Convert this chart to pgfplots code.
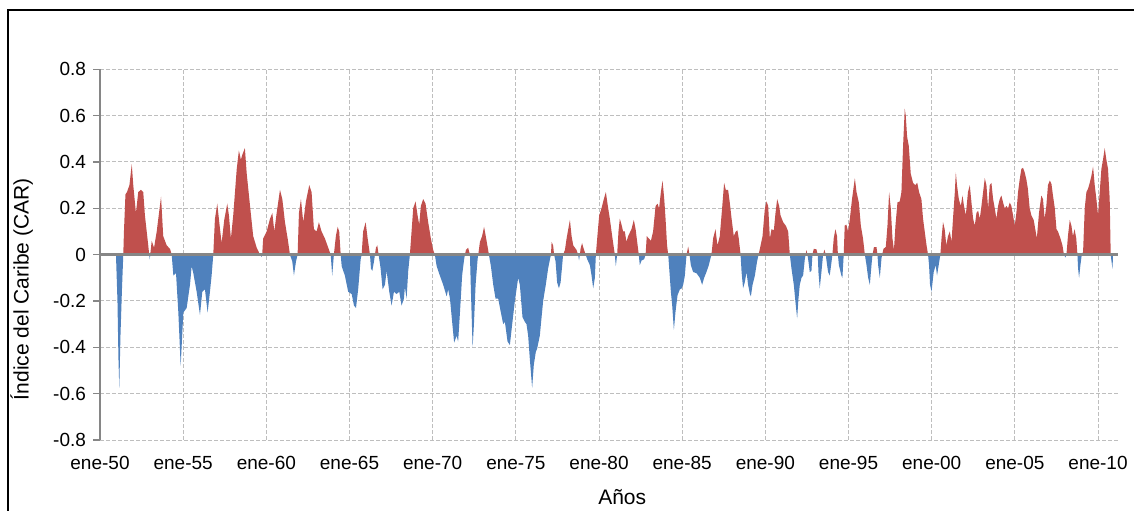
\documentclass[border=0pt]{standalone}
\usepackage{pgfplots}
\pgfplotsset{compat=1.18}
\usepackage{pgfplotstable}
\usepackage{fontspec}
\setmainfont{Liberation Sans}
\definecolor{carred}{HTML}{C0504D}
\definecolor{carblue}{HTML}{4F81BD}
\definecolor{axgray}{RGB}{134,134,134}
\definecolor{gridgray}{RGB}{190,190,190}
\pgfplotstableread{
t v
1950.00 0
1950.96 0
1951.05 -0.2
1951.11 -0.45
1951.16 -0.575
1951.23 -0.35
1951.32 -0.15
1951.40 0
1951.44 0.1
1951.53 0.26
1951.62 0.27
1951.77 0.30
1951.91 0.39
1952.00 0.30
1952.16 0.18
1952.30 0.27
1952.46 0.28
1952.60 0.27
1952.70 0.17
1952.90 0.04
1952.96 0
1952.99 -0.02
1953.02 0
1953.11 0.06
1953.25 0.03
1953.41 0.10
1953.67 0.25
1953.80 0.08
1954.01 0.04
1954.21 0.025
1954.31 0
1954.41 -0.09
1954.57 -0.08
1954.71 -0.25
1954.85 -0.48
1955.01 -0.25
1955.21 -0.23
1955.41 -0.13
1955.51 -0.05
1955.61 -0.08
1955.81 -0.16
1956.01 -0.26
1956.15 -0.16
1956.31 -0.15
1956.47 -0.25
1956.61 -0.16
1956.71 -0.09
1956.81 0
1956.91 0.155
1957.05 0.22
1957.17 0.14
1957.31 0.05
1957.47 0.15
1957.65 0.22
1957.75 0.17
1957.87 0.07
1958.01 0.17
1958.22 0.37
1958.35 0.45
1958.47 0.41
1958.55 0.43
1958.71 0.46
1958.82 0.35
1959.02 0.21
1959.21 0.08
1959.42 0.03
1959.62 0
1959.72 -0.01
1959.75 0
1959.81 0.07
1960.02 0.10
1960.22 0.155
1960.36 0.18
1960.48 0.10
1960.62 0.18
1960.82 0.28
1960.96 0.24
1961.12 0.14
1961.28 0.07
1961.42 0
1961.56 -0.03
1961.66 -0.09
1961.78 -0.03
1961.88 0
1961.96 0.18
1962.08 0.24
1962.22 0.14
1962.38 0.23
1962.58 0.30
1962.72 0.27
1962.86 0.11
1963.02 0.10
1963.16 0.14
1963.32 0.10
1963.52 0.07
1963.72 0.03
1963.87 0
1963.96 -0.09
1964.06 0
1964.18 0.08
1964.29 0.12
1964.38 0.10
1964.47 0
1964.53 -0.05
1964.72 -0.09
1964.92 -0.16
1965.13 -0.17
1965.27 -0.22
1965.39 -0.23
1965.52 -0.15
1965.67 -0.02
1965.73 0
1965.82 0.10
1965.97 0.14
1966.09 0.07
1966.23 0
1966.29 -0.06
1966.37 -0.07
1966.47 -0.03
1966.53 0
1966.59 0.03
1966.67 0.04
1966.75 0
1966.87 -0.06
1966.99 -0.15
1967.13 -0.13
1967.23 -0.07
1967.39 -0.16
1967.53 -0.22
1967.67 -0.16
1967.83 -0.17
1967.99 -0.16
1968.13 -0.22
1968.27 -0.19
1968.33 -0.14
1968.43 -0.19
1968.53 -0.07
1968.63 0
1968.73 0.10
1968.83 0.20
1968.97 0.23
1969.09 0.17
1969.19 0.13
1969.29 0.21
1969.43 0.24
1969.57 0.22
1969.73 0.14
1969.89 0.07
1970.03 0.02
1970.13 0
1970.24 -0.05
1970.43 -0.09
1970.63 -0.13
1970.84 -0.18
1970.93 -0.15
1971.04 -0.19
1971.17 -0.29
1971.29 -0.38
1971.44 -0.35
1971.53 -0.375
1971.64 -0.25
1971.77 -0.09
1971.89 -0.02
1971.94 0
1972.00 0.02
1972.13 0.03
1972.24 0
1972.30 -0.16
1972.40 -0.40
1972.48 -0.30
1972.58 -0.13
1972.70 -0.02
1972.74 0
1972.84 0.055
1972.97 0.08
1973.09 0.12
1973.24 0.06
1973.38 0
1973.50 -0.05
1973.64 -0.13
1973.78 -0.19
1973.94 -0.19
1974.10 -0.25
1974.24 -0.30
1974.34 -0.29
1974.50 -0.375
1974.64 -0.39
1974.78 -0.30
1974.94 -0.20
1975.14 -0.10
1975.24 -0.13
1975.40 -0.27
1975.54 -0.29
1975.64 -0.30
1975.74 -0.35
1975.84 -0.45
1975.98 -0.575
1976.08 -0.475
1976.20 -0.42
1976.28 -0.405
1976.44 -0.35
1976.64 -0.20
1976.80 -0.13
1976.94 -0.06
1977.05 -0.02
1977.11 0
1977.15 0.055
1977.24 0.04
1977.30 0
1977.39 -0.03
1977.48 -0.12
1977.59 -0.145
1977.69 -0.12
1977.78 -0.05
1977.84 0
1977.95 0.02
1978.05 0.07
1978.15 0.11
1978.25 0.15
1978.35 0.08
1978.45 0.04
1978.55 0.03
1978.65 0.02
1978.74 0
1978.80 -0.025
1978.85 0
1978.89 0.025
1978.98 0.05
1979.08 0.025
1979.20 0
1979.29 -0.02
1979.45 -0.045
1979.55 -0.09
1979.65 -0.145
1979.75 -0.10
1979.81 0
1979.89 0.07
1980.01 0.17
1980.15 0.20
1980.29 0.24
1980.41 0.27
1980.53 0.21
1980.65 0.155
1980.81 0.07
1980.95 0
1981.01 -0.05
1981.09 0
1981.17 0.10
1981.25 0.155
1981.35 0.13
1981.45 0.10
1981.55 0.10
1981.65 0.055
1981.75 0.08
1981.95 0.11
1982.09 0.15
1982.20 0.11
1982.32 0.04
1982.39 0
1982.45 -0.045
1982.56 -0.025
1982.71 -0.02
1982.80 0
1982.87 0.08
1982.99 0.07
1983.12 0.06
1983.25 0.10
1983.40 0.21
1983.52 0.22
1983.61 0.20
1983.72 0.27
1983.82 0.32
1983.92 0.24
1984.00 0.155
1984.09 0.04
1984.16 0
1984.22 -0.06
1984.32 -0.16
1984.40 -0.22
1984.50 -0.325
1984.60 -0.245
1984.72 -0.175
1984.86 -0.15
1984.96 -0.146
1985.06 -0.13
1985.16 -0.09
1985.26 0
1985.36 0.035
1985.44 0
1985.52 -0.045
1985.66 -0.075
1985.86 -0.08
1986.06 -0.10
1986.20 -0.13
1986.32 -0.10
1986.46 -0.075
1986.60 -0.045
1986.76 0
1986.86 0.07
1987.00 0.11
1987.12 0.04
1987.26 0.08
1987.40 0.20
1987.52 0.31
1987.62 0.28
1987.76 0.28
1987.86 0.225
1987.97 0.155
1988.10 0.08
1988.22 0.10
1988.32 0.105
1988.40 0.07
1988.51 0
1988.57 -0.075
1988.66 -0.145
1988.76 -0.12
1988.87 -0.075
1988.96 -0.13
1989.07 -0.17
1989.13 -0.18
1989.23 -0.13
1989.37 -0.09
1989.50 -0.03
1989.59 0
1989.67 0.025
1989.83 0.08
1989.97 0.20
1990.07 0.23
1990.17 0.21
1990.27 0.07
1990.37 0.11
1990.51 0.105
1990.61 0.18
1990.71 0.24
1990.83 0.21
1990.91 0.17
1991.07 0.14
1991.23 0.125
1991.37 0.10
1991.47 0
1991.57 -0.06
1991.71 -0.13
1991.83 -0.22
1991.91 -0.275
1991.99 -0.19
1992.07 -0.13
1992.17 -0.10
1992.27 -0.09
1992.37 -0.02
1992.42 0
1992.47 0.02
1992.53 0
1992.59 -0.03
1992.67 -0.075
1992.77 -0.07
1992.83 0
1992.91 0.025
1993.07 0.023
1993.15 0
1993.19 -0.075
1993.27 -0.145
1993.37 -0.075
1993.47 0
1993.55 0.022
1993.63 0
1993.71 -0.045
1993.77 -0.075
1993.87 -0.09
1993.98 -0.03
1994.03 0
1994.11 0.07
1994.21 0.11
1994.31 0.08
1994.36 0
1994.42 -0.045
1994.57 -0.09
1994.63 -0.10
1994.71 0
1994.77 0.125
1994.87 0.13
1994.97 0.10
1995.08 0.155
1995.21 0.24
1995.38 0.33
1995.48 0.27
1995.62 0.225
1995.74 0.125
1995.87 0.07
1995.98 0
1996.08 -0.045
1996.18 -0.10
1996.28 -0.13
1996.38 -0.045
1996.44 0
1996.53 0.033
1996.68 0.033
1996.74 0
1996.78 -0.045
1996.88 -0.10
1996.98 -0.017
1997.02 0
1997.10 0.025
1997.24 0.033
1997.34 0.125
1997.44 0.27
1997.54 0.20
1997.64 0.07
1997.73 0.02
1997.82 0.125
1997.94 0.225
1998.08 0.23
1998.18 0.27
1998.28 0.47
1998.38 0.63
1998.44 0.60
1998.52 0.51
1998.62 0.47
1998.74 0.35
1998.88 0.31
1999.01 0.30
1999.13 0.31
1999.24 0.27
1999.38 0.24
1999.48 0.155
1999.58 0.10
1999.69 0.04
1999.78 0
1999.84 -0.045
1999.90 -0.13
1999.99 -0.16
2000.08 -0.10
2000.12 -0.075
2000.24 -0.045
2000.32 -0.09
2000.42 -0.045
2000.52 0
2000.59 0.07
2000.68 0.14
2000.78 0.11
2000.88 0.04
2000.98 0.08
2001.09 0.10
2001.19 0.055
2001.28 0.155
2001.39 0.27
2001.45 0.355
2001.52 0.30
2001.63 0.24
2001.75 0.21
2001.85 0.255
2001.94 0.21
2002.05 0.17
2002.18 0.27
2002.29 0.30
2002.39 0.225
2002.49 0.155
2002.59 0.125
2002.69 0.18
2002.79 0.19
2002.89 0.155
2002.99 0.21
2003.09 0.27
2003.19 0.33
2003.29 0.30
2003.39 0.20
2003.49 0.30
2003.59 0.31
2003.69 0.24
2003.79 0.20
2003.89 0.155
2003.99 0.21
2004.09 0.24
2004.19 0.255
2004.29 0.225
2004.39 0.20
2004.49 0.21
2004.59 0.20
2004.69 0.225
2004.79 0.21
2004.89 0.17
2004.99 0.125
2005.09 0.18
2005.19 0.27
2005.29 0.325
2005.39 0.37
2005.49 0.375
2005.59 0.355
2005.69 0.325
2005.78 0.285
2005.89 0.20
2005.99 0.17
2006.13 0.15
2006.25 0.10
2006.32 0.07
2006.45 0.18
2006.59 0.255
2006.69 0.24
2006.79 0.155
2006.89 0.21
2006.99 0.30
2007.10 0.32
2007.20 0.305
2007.29 0.255
2007.40 0.20
2007.50 0.11
2007.59 0.10
2007.74 0.07
2007.86 0.04
2007.95 0
2008.04 -0.012
2008.10 0
2008.19 0.08
2008.30 0.15
2008.40 0.125
2008.49 0.08
2008.59 0.11
2008.69 0.07
2008.76 0
2008.80 -0.06
2008.86 -0.10
2008.94 -0.045
2009.02 0
2009.10 0.012
2009.20 0.20
2009.30 0.27
2009.40 0.285
2009.50 0.31
2009.60 0.34
2009.70 0.38
2009.80 0.30
2009.90 0.24
2010.00 0.17
2010.10 0.27
2010.20 0.37
2010.30 0.41
2010.40 0.46
2010.50 0.41
2010.60 0.37
2010.70 0.24
2010.76 0
2010.81 -0.03
2010.87 -0.06
2010.90 0
}\cardata

\begin{document}
\begin{tikzpicture}
\useasboundingbox (-50pt,-35pt) rectangle (517pt,220pt);
\draw[line width=1pt, black] (-46pt,-45pt) -- (-46pt,215pt) -- (530pt,215pt);
\begin{axis}[
  at={(0pt,0pt)}, anchor=south west, scale only axis,
  width=509pt, height=185.35pt,
  xmin=1950, xmax=2011.2, ymin=-0.8, ymax=0.8,
  axis lines*=left,
  x axis line style={draw=none},
  y axis line style={draw=axgray, line width=1pt},
  xtick={1950,1955,1960,1965,1970,1975,1980,1985,1990,1995,2000,2005,2010},
  xticklabels={ene-50,ene-55,ene-60,ene-65,ene-70,ene-75,ene-80,ene-85,ene-90,ene-95,ene-00,ene-05,ene-10},
  ytick={-0.8,-0.6,-0.4,-0.2,0,0.2,0.4,0.6,0.8},
  yticklabels={-0.8,-0.6,-0.4,-0.2,0,0.2,0.4,0.6,0.8},
  grid=major,
  major grid style={draw=gridgray, dash pattern=on 2pt off 1pt, line width=0.5pt},
  x tick style={draw=none},
  y tick style={draw=axgray, line width=0.7pt},
  tick align=outside, major tick length=3.5pt,
  tick label style={font=\fontsize{9.5}{11}\selectfont},
  xticklabel style={yshift=-1pt},
  xlabel={Años}, ylabel={Índice del Caribe (CAR)},
  label style={font=\fontsize{10.5}{12}\selectfont},
  xlabel style={at={(axis description cs:0.513,-0.154)}, anchor=center},
  ylabel style={at={(axis description cs:-0.077,0.407)}, anchor=center},
  clip=true,
]
\addplot[draw=none, fill=carred] table[x=t, y expr={max(\thisrow{v},0)}] {\cardata} \closedcycle;
\addplot[draw=none, fill=carblue] table[x=t, y expr={min(\thisrow{v},0)}] {\cardata} \closedcycle;
\draw[axgray, line width=1.2pt] (axis cs:1950,0) -- (axis cs:2011.2,0);
\end{axis}
\end{tikzpicture}
\end{document}
